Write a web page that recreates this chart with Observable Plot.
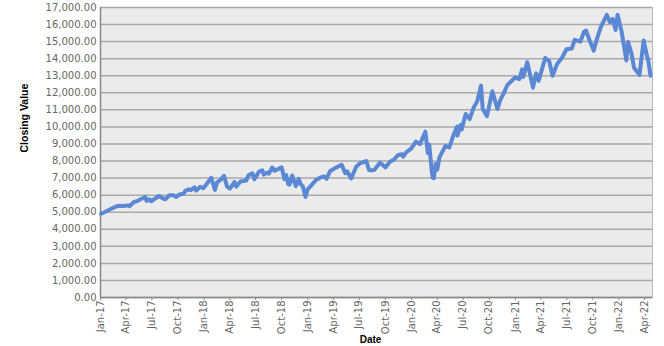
<!DOCTYPE html>
<html>
<head>
<meta charset="utf-8">
<script src="https://cdn.jsdelivr.net/npm/d3@7"></script>
<script src="https://cdn.jsdelivr.net/npm/@observablehq/plot@0.6"></script>
<style>
  html, body { margin: 0; padding: 0; background: #fff; }
  #chart svg { display: block; }
</style>
</head>
<body>
<div id="chart"></div>
<script>
const dates = [
  "2017-01-03","2017-01-13","2017-01-27","2017-02-10","2017-02-24","2017-03-10","2017-03-24","2017-04-07","2017-04-13","2017-04-28",
  "2017-05-12","2017-05-26","2017-06-08","2017-06-12","2017-06-23","2017-06-29","2017-07-14","2017-07-26","2017-08-10","2017-08-18",
  "2017-08-31","2017-09-15","2017-09-25","2017-10-06","2017-10-20","2017-10-27","2017-11-08","2017-11-15","2017-11-28","2017-12-04",
  "2017-12-18","2017-12-29","2018-01-12","2018-01-26","2018-02-08","2018-02-16","2018-02-27","2018-03-12","2018-03-23","2018-04-02",
  "2018-04-18","2018-04-24","2018-05-09","2018-05-29","2018-06-06","2018-06-20","2018-06-27","2018-07-13","2018-07-25","2018-07-30",
  "2018-08-10","2018-08-17","2018-08-29","2018-09-06","2018-09-14","2018-10-01","2018-10-11","2018-10-17","2018-10-24","2018-10-29",
  "2018-11-07","2018-11-20","2018-11-30","2018-12-07","2018-12-14","2018-12-24","2018-12-31","2019-01-15","2019-01-31","2019-02-15",
  "2019-02-28","2019-03-08","2019-03-21","2019-04-12","2019-04-30","2019-05-13","2019-05-20","2019-06-03","2019-06-20","2019-07-03",
  "2019-07-26","2019-08-05","2019-08-14","2019-08-23","2019-09-12","2019-10-02","2019-10-17","2019-10-31","2019-11-15","2019-11-29",
  "2019-12-03","2019-12-13","2019-12-31","2020-01-17","2020-01-31","2020-02-19","2020-02-28","2020-03-04","2020-03-12","2020-03-16",
  "2020-03-20","2020-03-26","2020-04-01","2020-04-09","2020-04-30","2020-05-13","2020-05-29","2020-06-10","2020-06-11","2020-06-23",
  "2020-06-26","2020-07-10","2020-07-24","2020-08-07","2020-08-20","2020-09-02","2020-09-08","2020-09-23","2020-10-12","2020-10-30",
  "2020-11-09","2020-11-20","2020-12-04","2020-12-31","2021-01-15","2021-01-25","2021-01-29","2021-02-12","2021-03-04","2021-03-15",
  "2021-03-24","2021-04-16","2021-04-30","2021-05-12","2021-05-28","2021-06-15","2021-06-30","2021-07-19","2021-07-29","2021-08-18",
  "2021-08-31","2021-09-07","2021-09-20","2021-10-04","2021-10-15","2021-10-29","2021-11-19","2021-11-30","2021-12-10","2021-12-20",
  "2021-12-27","2022-01-10","2022-01-27","2022-02-02","2022-02-14","2022-02-23","2022-03-14","2022-03-29","2022-04-08","2022-04-14",
  "2022-04-22"
];
const closes = [
  4911,4985,5100,5220,5330,5380,5360,5400,5350,5585,
  5670,5790,5880,5660,5750,5640,5820,5950,5800,5760,
  5990,5990,5890,6040,6080,6250,6340,6290,6450,6270,
  6490,6400,6700,7020,6300,6760,6880,7130,6500,6380,
  6780,6500,6800,6850,7160,7280,6930,7370,7460,7200,
  7320,7260,7620,7430,7500,7630,6930,7180,6650,6620,
  7150,6530,6950,6640,6530,5900,6330,6600,6900,7040,
  7090,6960,7420,7630,7780,7290,7390,6980,7650,7860,
  8000,7470,7450,7480,7900,7630,7960,8080,8350,8400,
  8250,8500,8730,9140,8990,9720,8460,8950,7480,7020,
  6990,7820,7490,8230,8890,8790,9560,10020,9490,10130,
  9850,10760,10460,11130,11500,12420,11070,10630,12090,11050,
  11580,11940,12460,12890,12800,13370,12930,13800,12300,13140,
  12700,14040,13860,13000,13690,14070,14550,14600,15100,15000,
  15580,15650,15050,14470,15150,15850,16570,16140,16330,15680,
  16570,15600,13900,14990,14300,13470,13050,15060,14280,13900,
  13000
];
const yTicks = d3.range(0, 17001, 1000);
const xTickDates = d3.utcMonth.every(3).range(new Date(Date.UTC(2017,0,1)), new Date(Date.UTC(2022,4,1)));
const yTitle = "Closing Value";
const xTitle = "Date";

const data = dates.map((d, i) => ({date: new Date(d + "T00:00:00Z"), close: closes[i]}));

const chart = Plot.plot({
  width: 664,
  height: 346,
  marginLeft: 100,
  marginRight: 12,
  marginTop: 7,
  marginBottom: 49,
  style: {fontFamily: "'DejaVu Sans', Verdana, sans-serif", fontSize: "10px", color: "#666", background: "#fff"},
  x: {type: "utc", domain: [new Date(Date.UTC(2017,0,1)), new Date(Date.UTC(2022,3,29))]},
  y: {domain: [0, 17000]},
  marks: [
    Plot.frame({fill: "#ebebeb", stroke: "#b8b8b8"}),
    Plot.gridY(yTicks, {stroke: "#a9a9a9", strokeOpacity: 1, strokeWidth: 1.5}),
    Plot.axisY(yTicks, {tickFormat: d3.format(",.2f"), tickSize: 0, tickPadding: 4, label: null, fill: "#666"}),
    Plot.axisX(xTickDates, {tickFormat: d3.utcFormat("%b-%y"), tickRotate: -90, tickSize: 3, tickPadding: 0, label: null, fill: "#666", stroke: "#888"}),
    Plot.ruleX([0], {x: () => new Date(Date.UTC(2017,0,1)), stroke: "#888", strokeWidth: 1.5}),
    Plot.ruleY([0], {stroke: "#888", strokeWidth: 1.5}),
    Plot.line(data, {x: "date", y: "close", stroke: "#5b88d4", strokeWidth: 4, strokeLinejoin: "round", strokeLinecap: "round"}),
    Plot.text([yTitle], {frameAnchor: "left", dx: -76, rotate: -90, fontWeight: "bold", fontSize: 10.5, fontFamily: "'Liberation Sans', Arial, sans-serif", fill: "#000"}),
    Plot.text([xTitle], {frameAnchor: "bottom", dy: 42, dx: -6, fontWeight: "bold", fontSize: 10, fontFamily: "'Liberation Sans', Arial, sans-serif", fill: "#000", lineAnchor: "middle"})
  ]
});
document.getElementById("chart").appendChild(chart);
</script>
</body>
</html>
